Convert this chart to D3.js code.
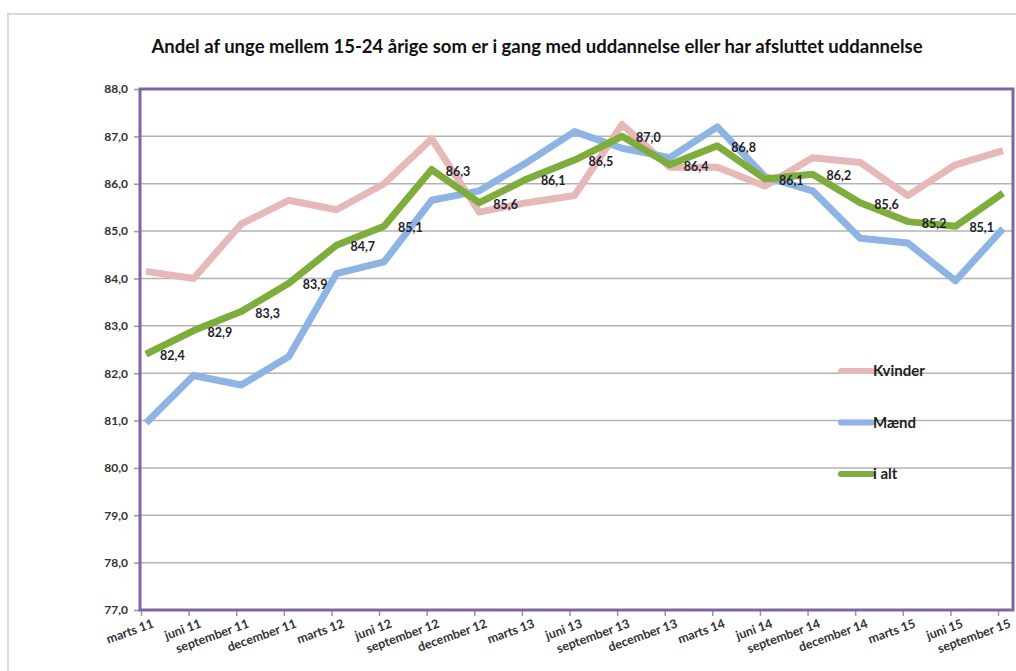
<!DOCTYPE html>
<html>
<head>
<meta charset="utf-8">
<script src="https://cdn.jsdelivr.net/npm/d3@7"></script>
<style>
	html, body { margin: 0; padding: 0; background: #fff; overflow: hidden; }
	text { font-family: Lato, "Open Sans", sans-serif; }
</style>
</head>
<body>
<div id="chartContainer"></div>
<script>
"use strict";

const title = "Andel af unge mellem 15-24 årige som er i gang med uddannelse eller har afsluttet uddannelse";

const quarters = ["marts 11", "juni 11", "september 11", "december 11",
	"marts 12", "juni 12", "september 12", "december 12",
	"marts 13", "juni 13", "september 13", "december 13",
	"marts 14", "juni 14", "september 14", "december 14",
	"marts 15", "juni 15", "september 15"];

const kvinder = [84.15, 84.0, 85.15, 85.65, 85.45, 86.0, 86.95, 85.4, 85.6, 85.75,
	87.25, 86.35, 86.35, 85.95, 86.55, 86.45, 85.75, 86.4, 86.7];

const maend = [80.95, 81.95, 81.75, 82.35, 84.1, 84.35, 85.65, 85.85, 86.45, 87.1,
	86.75, 86.55, 87.2, 86.15, 85.85, 84.85, 84.75, 83.95, 85.05];

const iAlt = [82.4, 82.9, 83.3, 83.9, 84.7, 85.1, 86.3, 85.6, 86.1, 86.5,
	87.0, 86.4, 86.8, 86.1, 86.2, 85.6, 85.2, 85.1, 85.8];

const yTicks = [77, 78, 79, 80, 81, 82, 83, 84, 85, 86, 87, 88];

const series = [
	{name: "Kvinder", values: kvinder, colour: "#e6b8b7"},
	{name: "Mænd", values: maend, colour: "#8db4e2"},
	{name: "i alt", values: iAlt, colour: "#7fad3d"}
];

const width = 1016, height = 671;
const plot = {left: 140, right: 1013, top: 89, bottom: 610};

const fmt = v => v.toFixed(1).replace(".", ",");

let svg = d3.select("#chartContainer")
	.append("svg")
	.attr("width", width)
	.attr("height", height);

// outer chart frame (light grey)
svg.append("rect")
	.attr("x", 8).attr("y", 14)
	.attr("width", 1100).attr("height", 700)
	.attr("fill", "#fff")
	.attr("stroke", "#d9d9d9")
	.attr("stroke-width", 2);

svg.append("text")
	.attr("x", 537)
	.attr("y", 53)
	.attr("text-anchor", "middle")
	.style("font-size", "18.5px")
	.style("font-weight", "bold")
	.attr("fill", "#111")
	.text(title);

let x = d3.scalePoint()
	.domain(quarters)
	.range([146, 1003]);

let y = d3.scaleLinear()
	.domain([77, 88])
	.range([plot.bottom, plot.top]);

// horizontal gridlines
svg.append("g")
	.selectAll("line")
	.data(yTicks.filter(t => t > 77 && t < 88))
	.enter()
	.append("line")
		.attr("x1", plot.left)
		.attr("x2", plot.right)
		.attr("y1", d => y(d))
		.attr("y2", d => y(d))
		.attr("stroke", "#b3b3b3")
		.attr("stroke-width", 1.5);

// y axis
let yAxis = svg.append("g")
	.attr("transform", `translate(${plot.left},0)`)
	.call(d3.axisLeft(y).tickValues(yTicks).tickFormat(fmt).tickSize(6).tickPadding(6));
yAxis.select(".domain").remove();
yAxis.selectAll(".tick line").attr("stroke", "#999").attr("stroke-width", 1.5);
yAxis.selectAll(".tick text")
	.attr("fill", "#333")
	.style("font-size", "12px")
	.style("font-weight", "bold")
	.style("font-family", "Lato, sans-serif");

// x axis
let xAxis = svg.append("g")
	.attr("transform", `translate(0,${plot.bottom})`)
	.call(d3.axisBottom(x).tickSize(6).tickFormat(d => d));
xAxis.select(".domain").remove();
xAxis.selectAll(".tick line").attr("stroke", "#999").attr("stroke-width", 1.5).attr("transform", "translate(-5,0)");
xAxis.selectAll(".tick text")
	.attr("fill", "#333")
	.attr("text-anchor", "end")
	.attr("y", 0)
	.attr("dy", 0)
	.attr("transform", "translate(8,17) rotate(-20)")
	.style("font-size", "12.5px")
	.style("font-weight", "bold")
	.style("font-family", "Lato, sans-serif");

// plot area border (purple)
svg.append("rect")
	.attr("x", plot.left)
	.attr("y", plot.top)
	.attr("width", plot.right - plot.left)
	.attr("height", plot.bottom - plot.top)
	.attr("fill", "none")
	.attr("stroke", "#7f65a6")
	.attr("stroke-width", 3);

let line = d3.line()
	.x((d, i) => x(quarters[i]))
	.y(d => y(d));

svg.append("g")
	.selectAll("path")
	.data(series)
	.enter()
	.append("path")
		.attr("d", d => line(d.values))
		.attr("fill", "none")
		.attr("stroke", d => d.colour)
		.attr("stroke-width", 7)
		.attr("stroke-linejoin", "round");

// data labels on the total series (last one runs off the edge, as in the original)
svg.append("g")
	.selectAll("text")
	.data(iAlt)
	.enter()
	.append("text")
		.attr("x", (d, i) => x(quarters[i]) + 14)
		.attr("y", d => y(d) + 6)
		.attr("fill", "#1e1e2e")
		.style("font-size", "12.5px")
		.style("font-weight", "bold")
		.text(d => fmt(d));

// legend
let legend = svg.append("g")
	.selectAll("g")
	.data(series)
	.enter()
	.append("g")
		.attr("transform", (d, i) => `translate(841,${371 + i * 51.5})`);

legend.append("line")
	.attr("x1", 0).attr("x2", 31)
	.attr("stroke", d => d.colour)
	.attr("stroke-width", 6)
	.attr("stroke-linecap", "round");

legend.append("text")
	.attr("x", 32)
	.attr("y", 5)
	.attr("fill", "#222")
	.style("font-size", "15px")
	.style("font-weight", "bold")
	.text(d => d.name);
</script>
</body>
</html>
